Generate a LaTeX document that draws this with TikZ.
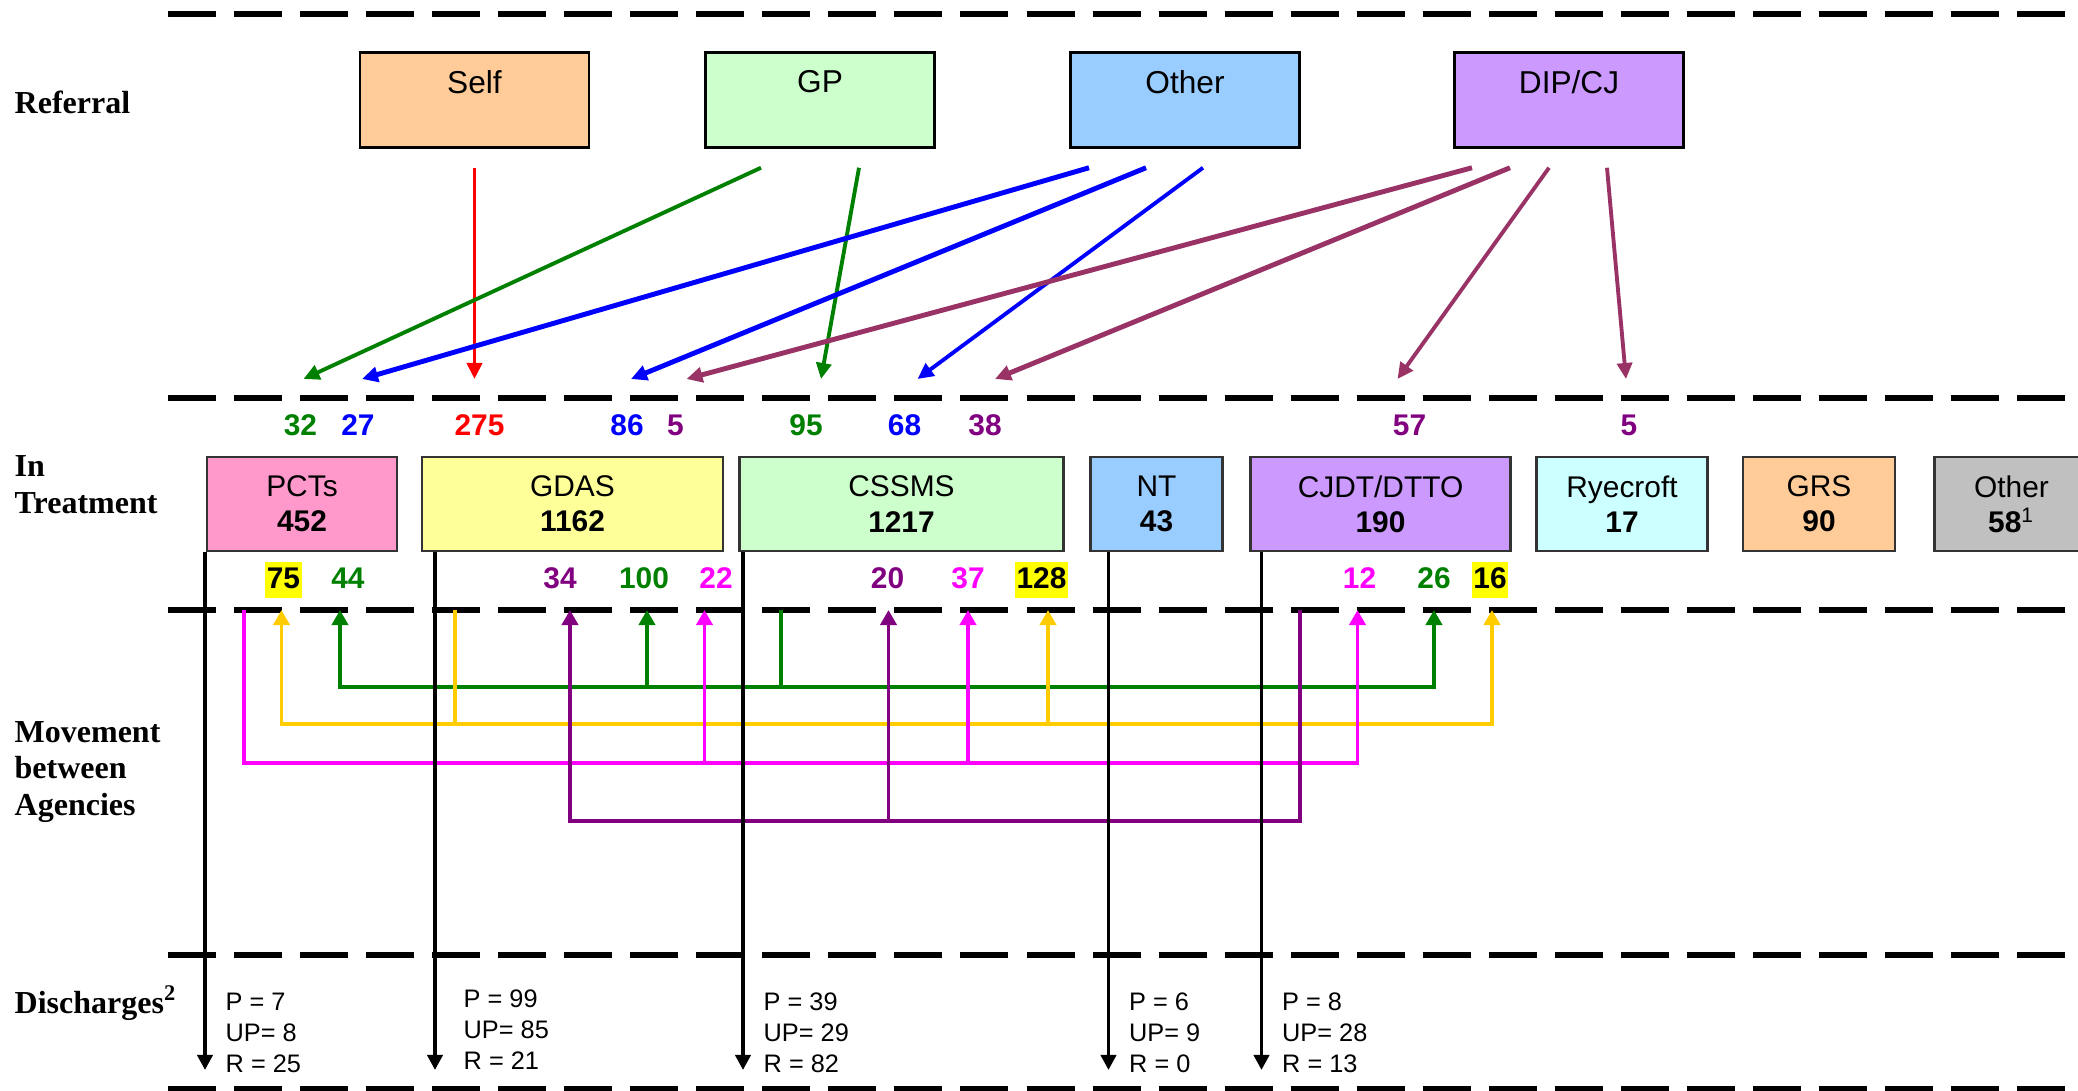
\documentclass[tikz,border=0pt]{standalone}
\usepackage{fontspec}
\setmainfont{Liberation Sans}
\newfontfamily\rowfont{Liberation Serif}
\usetikzlibrary{arrows.meta,calc,positioning}
\definecolor{SelfOrange}{RGB}{255,204,153}
\definecolor{GPGreen}{RGB}{204,255,204}
\definecolor{OtherBlue}{RGB}{153,204,255}
\definecolor{DIPViolet}{RGB}{204,153,255}
\definecolor{PCTPink}{RGB}{255,153,204}
\definecolor{GDASYellow}{RGB}{255,255,153}
\definecolor{RyeCyan}{RGB}{204,255,255}
\definecolor{OtherGrey}{RGB}{192,192,192}
\definecolor{FlowGreen}{RGB}{0,128,0}
\definecolor{FlowBlue}{RGB}{0,0,255}
\definecolor{FlowRed}{RGB}{255,0,0}
\definecolor{FlowPlum}{RGB}{153,51,102}
\definecolor{NumPurple}{RGB}{128,0,128}
\definecolor{MoveGold}{RGB}{255,204,0}
\definecolor{MoveMagenta}{RGB}{255,0,255}
\definecolor{MarkYellow}{RGB}{255,255,0}
\tikzset{
  sep/.style={line width=1.5pt,dash pattern=on 4.8mm off 1.8mm},
  refbox/.style={draw,line width=0.7pt,minimum width=2.29cm,minimum height=0.95cm,align=center,font=\fontsize{9}{10.4}\selectfont},
  agbox/.style={draw=black!80,line width=0.7pt,minimum height=0.94cm,align=center,inner sep=0pt,font=\fontsize{8.5}{10}\selectfont},
  rowlbl/.style={anchor=west,align=left,inner sep=0pt,font=\rowfont\bfseries\fontsize{9.1}{10.5}\selectfont},
  num/.style={inner xsep=0.4pt,inner ysep=0pt,text height=7.4pt,text depth=2.6pt,font=\bfseries\fontsize{8.5}{10}\selectfont},
  refarr/.style={-{Triangle[width=1.5mm,length=1.6mm]},line width=1.1pt},
  movarr/.style={-{Triangle[width=1.6mm,length=1.5mm]},line width=1.1pt},
  disarr/.style={-{Triangle[width=1.5mm,length=1.5mm]},line width=1.1pt},
  distext/.style={anchor=north west,align=left,inner sep=0pt,font=\fontsize{7.2}{8.8}\selectfont}
}
\begin{document}
\begin{tikzpicture}[x=0.01cm,y=-0.01cm]
  \useasboundingbox (0,0) rectangle (2078,1091);
  \foreach \y in {14,398,610,955,1089}
    \draw[sep] (168,\y) -- (2078,\y);
  \node[rowlbl] (lrefer) at (14,102) {Referral};
  \node[rowlbl] (ltreat) at (14,485) {In\\Treatment};
  \node[rowlbl] (lmove) at (14,772) {Movement\\between\\Agencies};
  \node[rowlbl] (ldisch) at (14,1003) {Discharges\textsuperscript{2}};

  \node[refbox,fill=SelfOrange] (self) at (474.5,100) {Self\\~};
  \node[refbox,fill=GPGreen] (gp) at (820,100) {GP\\~};
  \node[refbox,fill=OtherBlue] (other) at (1185,100) {Other\\~};
  \node[refbox,fill=DIPViolet] (dip) at (1569,100) {DIP/CJ\\~};

  \node[agbox,fill=PCTPink,minimum width=1.90cm] (pcts) at (302,504) {PCTs\\\textbf{452}};
  \node[agbox,fill=GDASYellow,minimum width=3.01cm] (gdas) at (572.5,504) {GDAS\\\textbf{1162}};
  \node[agbox,fill=GPGreen,minimum width=3.24cm] (cssms) at (901.5,504) {CSSMS\\\textbf{1217}};
  \node[agbox,fill=OtherBlue,minimum width=1.32cm] (nt) at (1156.5,504) {NT\\\textbf{43}};
  \node[agbox,fill=DIPViolet,minimum width=2.60cm] (cjdt) at (1380.5,504) {CJDT/DTTO\\\textbf{190}};
  \node[agbox,fill=RyeCyan,minimum width=1.71cm] (rye) at (1622,504) {Ryecroft\\\textbf{17}};
  \node[agbox,fill=SelfOrange,minimum width=1.52cm] (grs) at (1819,504) {GRS\\\textbf{90}};
  \node[agbox,fill=OtherGrey,minimum width=1.54cm] (oth) at (2011.5,504) {Other\\\textbf{58}\textsuperscript{1}};

  \foreach \x/\v/\c/\id in {300.5/32/FlowGreen/n32,358/27/FlowBlue/n27,479.5/275/FlowRed/n275,627/86/FlowBlue/n86,
      675.5/5/NumPurple/n5a,806/95/FlowGreen/n95,904.5/68/FlowBlue/n68,985/38/NumPurple/n38,
      1409.5/57/NumPurple/n57,1629/5/NumPurple/n5b}
    \node[num,text=\c] (\id) at (\x,427) {\v};

  \draw[refarr,FlowRed] ($(self.south)+(0,19)$) -- ($(n275)+(-5,-48)$);
  \draw[refarr,FlowGreen] ($(gp.south)+(-59,19)$) -- ($(n32)+(3,-48)$);
  \draw[refarr,FlowGreen] ($(gp.south)+(39,19)$) -- ($(n95)+(15,-48)$);
  \draw[refarr,FlowBlue,line width=1.4pt] ($(other.south)+(-96,19)$) -- ($(n27)+(4,-48)$);
  \draw[refarr,FlowBlue,line width=1.4pt] ($(other.south)+(-39,19)$) -- ($(n86)+(4,-48)$);
  \draw[refarr,FlowBlue] ($(other.south)+(18,19)$) -- ($(n68)+(13,-48)$);
  \draw[refarr,FlowPlum,line width=1.4pt] ($(dip.south)+(-97,19)$) -- ($(n5a)+(11,-48)$);
  \draw[refarr,FlowPlum,line width=1.4pt] ($(dip.south)+(-59,19)$) -- ($(n38)+(10,-48)$);
  \draw[refarr,FlowPlum] ($(dip.south)+(-20,19)$) -- ($(n57)+(-12,-48)$);
  \draw[refarr,FlowPlum] ($(dip.south)+(38,19)$) -- ($(n5b)+(-3,-48)$);

  \foreach \x/\v/\f/\c in {283.5/75/MarkYellow/black,348/44/none/FlowGreen,560/34/none/NumPurple,
      644/100/none/FlowGreen,716/22/none/MoveMagenta,887.5/20/none/NumPurple,968/37/none/MoveMagenta,
      1041.5/128/MarkYellow/black,1359.5/12/none/MoveMagenta,1434/26/none/FlowGreen,1490/16/MarkYellow/black}
    \node[num,fill=\f,text=\c] (m\v) at (\x,580) {\v};
  \foreach \v/\dx in {75/-2,44/-8,34/10,100/3,22/-11.5,20/1,37/0,128/6.5,12/-2,26/0,16/2}
    \coordinate (a\v) at ($(m\v)+(\dx,30)$);
  \coordinate (gsrc) at (781,610);
  \coordinate (ysrc) at (455,610);
  \coordinate (msrc) at (244,610);
  \coordinate (vsrc) at (1300,610);
  \foreach \t in {a44,a100,a26}
    \draw[movarr,FlowGreen] (gsrc) -- ++(0,77) -| (\t);
  \foreach \t in {a75,a128,a16}
    \draw[movarr,MoveGold] (ysrc) -- ++(0,114) -| (\t);
  \foreach \t in {a22,a37,a12}
    \draw[movarr,MoveMagenta] (msrc) -- ++(0,153) -| (\t);
  \foreach \t in {a34,a20}
    \draw[movarr,NumPurple] (vsrc) -- ++(0,211) -| (\t);

  \foreach \b/\x in {pcts/205,gdas/435,cssms/743,nt/1108.5,cjdt/1261.5} {
    \coordinate (d-\b) at (\x,1070);
    \draw[disarr] (d-\b |- \b.south) -- (d-\b);
  }
  \node[distext] (dis-pcts) at (225,992) {P = 7\\UP= 8\\R = 25};
  \node[distext] (dis-gdas) at (463,989) {P = 99\\UP= 85\\R = 21};
  \node[distext] (dis-cssms) at (763,992) {P = 39\\UP= 29\\R = 82};
  \node[distext] (dis-nt) at (1128.5,992) {P = 6\\UP= 9\\R = 0};
  \node[distext] (dis-cjdt) at (1281.5,992) {P = 8\\UP= 28\\R = 13};
\end{tikzpicture}
\end{document}
